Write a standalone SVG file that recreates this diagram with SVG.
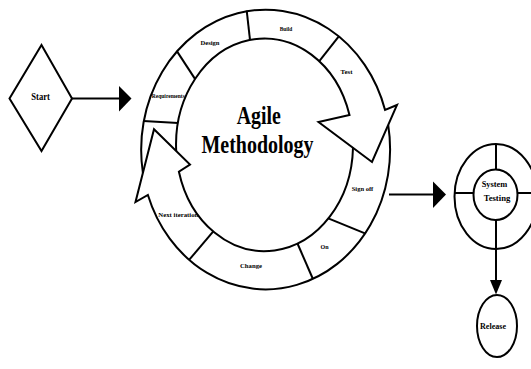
<svg xmlns="http://www.w3.org/2000/svg" width="531" height="369" viewBox="0 0 531 369">
<style>
.ln{fill:none;stroke:#000;stroke-width:2;stroke-linejoin:miter;stroke-linecap:butt}
.hd{fill:#000;stroke:none}
.t{font-family:"Liberation Serif","Times New Roman",serif;font-weight:bold;fill:#000;text-anchor:middle}
.s7{font-size:7px}
.big{font-size:26px}
</style>
<rect width="531" height="369" fill="#fff"/>
<g id="start">
<polygon class="ln" points="41.5,45 72,98.5 41.5,151 9.5,98.5"/>
<text class="t" x="40.6" y="100" font-size="10" textLength="18.6" lengthAdjust="spacingAndGlyphs">Start</text>
</g>
<g id="agile-cycle">
<path class="ln" d="M142.9,172.9 A124.5,140 0 0 1 385.07,110 L397,105 L372,162 L318.5,122 L349.5,115 A88.5,106.3 0 0 0 176.2,151"/>
<path class="ln" d="M388.2,125 A124.5,140 0 0 1 147.9,195 L135.5,202 L154,129.3 L190,164.5 L178.9,171.7 A88.5,106.3 0 0 0 353,147.8"/>
<line class="ln" x1="143.5" y1="121" x2="178" y2="123"/>
<line class="ln" x1="176.7" y1="50.9" x2="195" y2="78.9"/>
<line class="ln" x1="246.7" y1="10.6" x2="250" y2="39.8"/>
<line class="ln" x1="339" y1="36.2" x2="319.3" y2="61.2"/>
<line class="ln" x1="328.3" y1="218.3" x2="365" y2="233.4"/>
<line class="ln" x1="297.5" y1="243.5" x2="312.7" y2="278.5"/>
<line class="ln" x1="213.3" y1="231.4" x2="189.3" y2="259.7"/>
<text class="t" x="168.3" y="97.5" font-size="6" textLength="33" lengthAdjust="spacingAndGlyphs">Requirements</text>
<text class="t s7" x="210" y="45" textLength="19" lengthAdjust="spacingAndGlyphs">Design</text>
<text class="t s7" x="286" y="30.5" textLength="12.5" lengthAdjust="spacingAndGlyphs">Build</text>
<text class="t s7" x="346.5" y="74" textLength="12" lengthAdjust="spacingAndGlyphs">Test</text>
<text class="t s7" x="362.5" y="190.5" textLength="21.5" lengthAdjust="spacingAndGlyphs">Sign off</text>
<text class="t s7" x="324.5" y="249" textLength="8" lengthAdjust="spacingAndGlyphs">On</text>
<text class="t s7" x="251" y="268" textLength="22" lengthAdjust="spacingAndGlyphs">Change</text>
<text class="t s7" x="178.3" y="216.5" textLength="40" lengthAdjust="spacingAndGlyphs">Next iteration</text>
<text class="t big" x="258.7" y="124" textLength="44" lengthAdjust="spacingAndGlyphs">Agile</text>
<text class="t big" x="257.5" y="153" textLength="112" lengthAdjust="spacingAndGlyphs">Methodology</text>
</g>
<g id="system-testing">
<ellipse class="ln" cx="496" cy="196.5" rx="41.5" ry="52.5"/>
<ellipse class="ln" cx="495.5" cy="194.7" rx="22" ry="25.3"/>
<line class="ln" x1="496" y1="144" x2="496" y2="169.4"/>
<line class="ln" x1="496" y1="220" x2="496" y2="249"/>
<line class="ln" x1="454.5" y1="193" x2="473.5" y2="193"/>
<line class="ln" x1="517.5" y1="193" x2="538" y2="193"/>
<text class="t" x="494.5" y="187" font-size="8" textLength="25.7" lengthAdjust="spacingAndGlyphs">System</text>
<text class="t" x="497" y="200.5" font-size="8" textLength="26.7" lengthAdjust="spacingAndGlyphs">Testing</text>
</g>
<g id="release">
<ellipse class="ln" cx="497" cy="326" rx="20" ry="31"/>
<text class="t" x="493" y="329" font-size="8" textLength="26" lengthAdjust="spacingAndGlyphs">Release</text>
</g>
<g id="connectors">
<line class="ln" x1="72" y1="98.5" x2="120" y2="98.5"/>
<polygon class="hd" points="119,86 131.5,98.5 119,111.5"/>
<line class="ln" x1="389" y1="194.5" x2="434" y2="194.5"/>
<polygon class="hd" points="433,181.5 446,194.5 433,208"/>
<line class="ln" x1="496" y1="249" x2="496" y2="281"/>
<polygon class="hd" points="490,280 502,280 496,294.5"/>
</g>
</svg>
